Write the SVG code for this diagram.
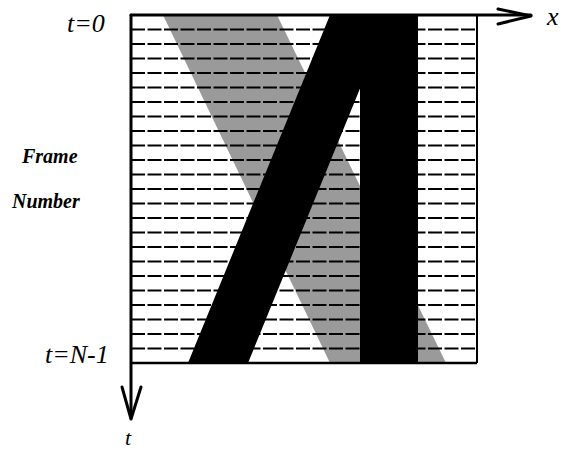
<svg xmlns="http://www.w3.org/2000/svg" width="561" height="451" viewBox="0 0 561 451">
<style>
.lbl{font-family:"Liberation Serif","Times New Roman",serif;font-style:italic;font-size:26px;fill:#000}
.bl{font-family:"Liberation Serif","Times New Roman",serif;font-style:italic;font-weight:bold;font-size:20px;fill:#000}
.dash{stroke:#000;stroke-width:1.8;stroke-dasharray:14 2.5;fill:none}
.ax{stroke:#000;stroke-width:3;fill:none;stroke-linecap:round;stroke-linejoin:round}
</style>
<rect width="561" height="451" fill="#fff"/>
<g id="gray-band">
<polygon points="163,15 277,15 446,363 330,363" fill="#9a9a9a"/>
</g>
<g id="frame-lines">
<line class="dash" x1="131" x2="477" y1="29.5" y2="29.5"/>
<line class="dash" x1="131" x2="477" y1="44" y2="44"/>
<line class="dash" x1="131" x2="477" y1="58.5" y2="58.5"/>
<line class="dash" x1="131" x2="477" y1="73" y2="73"/>
<line class="dash" x1="131" x2="477" y1="87.5" y2="87.5"/>
<line class="dash" x1="131" x2="477" y1="102" y2="102"/>
<line class="dash" x1="131" x2="477" y1="116.5" y2="116.5"/>
<line class="dash" x1="131" x2="477" y1="131" y2="131"/>
<line class="dash" x1="131" x2="477" y1="145.5" y2="145.5"/>
<line class="dash" x1="131" x2="477" y1="160" y2="160"/>
<line class="dash" x1="131" x2="477" y1="174.5" y2="174.5"/>
<line class="dash" x1="131" x2="477" y1="189" y2="189"/>
<line class="dash" x1="131" x2="477" y1="203.5" y2="203.5"/>
<line class="dash" x1="131" x2="477" y1="218" y2="218"/>
<line class="dash" x1="131" x2="477" y1="232.5" y2="232.5"/>
<line class="dash" x1="131" x2="477" y1="247" y2="247"/>
<line class="dash" x1="131" x2="477" y1="261.5" y2="261.5"/>
<line class="dash" x1="131" x2="477" y1="276" y2="276"/>
<line class="dash" x1="131" x2="477" y1="290.5" y2="290.5"/>
<line class="dash" x1="131" x2="477" y1="305" y2="305"/>
<line class="dash" x1="131" x2="477" y1="319.5" y2="319.5"/>
<line class="dash" x1="131" x2="477" y1="334" y2="334"/>
<line class="dash" x1="131" x2="477" y1="348.5" y2="348.5"/>
</g>
<g id="black-shape">
<polygon points="330,15 390,15 248,363 188,363" fill="#000"/>
<rect x="360" y="15" width="58" height="348" fill="#000"/>
</g>
<g id="border">
<line x1="477" y1="15" x2="477" y2="363" stroke="#000" stroke-width="2"/>
<line x1="131" y1="363" x2="477" y2="363" stroke="#000" stroke-width="2.5"/>
</g>
<g id="axes">
<line class="ax" x1="131" y1="15" x2="531" y2="15"/>
<polyline class="ax" points="498,9 531,16 498,24"/>
<line class="ax" x1="131" y1="15" x2="131" y2="418"/>
<polyline class="ax" points="122,387 131,419 141,387"/>
</g>
<g id="labels">
<text class="lbl" x="67" y="32">t=0</text>
<text class="lbl" x="547" y="25">x</text>
<text class="lbl" x="45" y="363">t=N-1</text>
<text class="lbl" x="125" y="445" style="font-size:22px">t</text>
<text class="bl" x="22" y="163">Frame</text>
<text class="bl" x="12" y="208">Number</text>
</g>
</svg>
